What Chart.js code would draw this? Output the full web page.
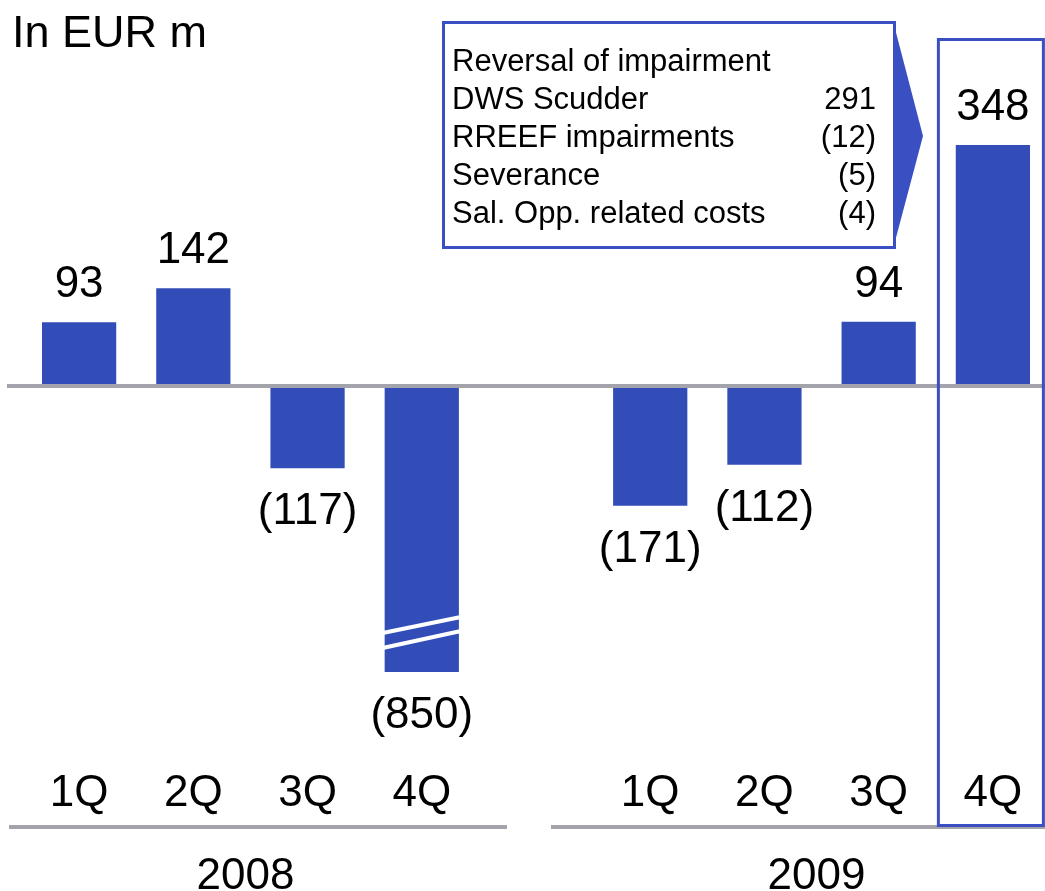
<!DOCTYPE html>
<html><head><meta charset="utf-8">
<script src="https://cdn.jsdelivr.net/npm/chart.js@4.4.1/dist/chart.umd.min.js"></script>
<style>
html,body{margin:0;padding:0;background:#fff;overflow:hidden;width:1045px;height:891px}
#wrap{width:1050px;height:891px}
</style>
</head><body>
<div id="wrap"><canvas id="c" width="1050" height="891"></canvas></div>
<script>
const quarters = ['1Q','2Q','3Q','4Q','','1Q','2Q','3Q','4Q'];
const years = ['2008','2009'];
const yearSpans = [[0,3],[5,8]];
const values = [93,142,-117,-850,null,-171,-112,94,348];
const breakFloor = -410;
const calloutItems = ['Reversal of impairment','DWS Scudder','RREEF impairments','Severance','Sal. Opp. related costs'];
const calloutValues = ['','291','(12)','(5)','(4)'];
const unitLabel = 'In EUR m';

const BLUE = '#334db8';
const FRAME = '#3a4fc2';
const GRAY = '#a3a3ab';
const FONT = '"Liberation Sans", Arial, sans-serif';

const shown = values.map(v => v === null ? null : Math.max(v, breakFloor));
const fmt = v => v < 0 ? '(' + Math.abs(v) + ')' : String(v);

const overlay = {
  id: 'overlay',
  afterDatasetsDraw(chart) {
    const ctx = chart.ctx;
    const xs = chart.scales.x, ys = chart.scales.y;
    const meta = chart.getDatasetMeta(0);
    ctx.save();

    // break marks on the clipped bar
    values.forEach((v, i) => {
      if (v !== null && v < breakFloor) {
        const el = meta.data[i];
        const l = el.x - el.width / 2 - 2, r = el.x + el.width / 2 + 2;
        ctx.strokeStyle = '#ffffff';
        ctx.lineWidth = 4;
        [[-354, -331], [-375.5, -351]].forEach(([a, b]) => {
          ctx.beginPath();
          ctx.moveTo(l, ys.getPixelForValue(a));
          ctx.lineTo(r, ys.getPixelForValue(b));
          ctx.stroke();
        });
      }
    });

    // zero line
    const y0 = ys.getPixelForValue(0) - 1;
    ctx.strokeStyle = GRAY;
    ctx.lineWidth = 4;
    ctx.beginPath(); ctx.moveTo(7, y0); ctx.lineTo(1045, y0); ctx.stroke();

    // value labels
    ctx.fillStyle = '#000';
    ctx.font = '44px ' + FONT;
    ctx.textAlign = 'center';
    ctx.textBaseline = 'alphabetic';
    values.forEach((v, i) => {
      if (v === null) return;
      const el = meta.data[i];
      if (v >= 0) ctx.fillText(fmt(v), el.x, el.y - 25);
      else ctx.fillText(fmt(v), el.x, el.y + 56);
    });

    // quarter labels
    quarters.forEach((q, i) => {
      if (!q) return;
      ctx.fillText(q, xs.getPixelForValue(i), 806);
    });

    // year labels
    years.forEach((yr, k) => {
      const [a, b] = yearSpans[k];
      const cx = (xs.getPixelForValue(a) + xs.getPixelForValue(b)) / 2 - 5;
      ctx.fillText(yr, cx, 889);
    });

    // bottom lines
    ctx.strokeStyle = GRAY;
    ctx.lineWidth = 4;
    ctx.beginPath(); ctx.moveTo(9, 827); ctx.lineTo(507, 827); ctx.stroke();
    ctx.beginPath(); ctx.moveTo(551, 827); ctx.lineTo(1045, 827); ctx.stroke();

    // highlight frame around last quarter
    const lx = xs.getPixelForValue(values.length - 1);
    ctx.strokeStyle = FRAME;
    ctx.lineWidth = 3;
    ctx.strokeRect(lx - 54.5, 39.5, 105, 786);

    // callout box
    ctx.strokeRect(443.5, 22.5, 451, 225);
    ctx.fillStyle = FRAME;
    ctx.beginPath();
    ctx.moveTo(893, 21); ctx.lineTo(923, 136); ctx.lineTo(893, 249); ctx.closePath();
    ctx.fill();

    ctx.fillStyle = '#000';
    ctx.font = '31px ' + FONT;
    calloutItems.forEach((t, i) => {
      const by = 71 + 38 * i;
      ctx.textAlign = 'left';
      ctx.fillText(t, 452, by);
      ctx.textAlign = 'right';
      if (calloutValues[i]) ctx.fillText(calloutValues[i], 876, by);
    });

    // unit label
    ctx.textAlign = 'left';
    ctx.font = '45px ' + FONT;
    ctx.fillText(unitLabel, 12, 47);

    ctx.restore();
  }
};

new Chart(document.getElementById('c'), {
  type: 'bar',
  data: {
    labels: quarters.map((q, i) => q || ' '),
    datasets: [{
      data: shown,
      backgroundColor: BLUE,
      borderWidth: 0,
      categoryPercentage: 1,
      barPercentage: 0.65
    }]
  },
  options: {
    responsive: false,
    animation: false,
    layout: { padding: { left: 22, right: 0, top: 0, bottom: 0 } },
    plugins: { legend: { display: false }, tooltip: { enabled: false } },
    scales: {
      x: { display: false, offset: true, grid: { display: false } },
      y: { display: false, min: -725.2, max: 556.8, grid: { display: false } }
    }
  },
  plugins: [overlay]
});
</script>
</body></html>
